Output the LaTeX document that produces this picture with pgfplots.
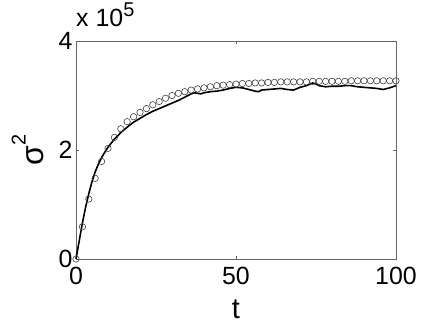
\documentclass[border=0pt]{standalone}
\usepackage{fontspec}
\setmainfont{Liberation Sans}
\usepackage{pgfplots}
\pgfplotsset{compat=1.18}

% model values (circles) and simulation (line), y in units of 1e5
\begin{document}
\begin{tikzpicture}
\begin{axis}[
    scale only axis,
    width=320bp, height=218bp,
    xmin=0, xmax=100, ymin=0, ymax=4,
    xtick={0,50,100}, ytick={0,2,4},
    tick align=inside,
    major tick length=3bp,
    axis line style={black!60, line width=0.6bp},
    tick style={black!60, line width=0.6bp},
    ticklabel style={font=\fontsize{25}{25}\selectfont},
    xticklabel style={yshift=-5bp},
    /pgf/number format/assume math mode=true,
    xlabel={t},
    ylabel={σ\raisebox{0.55em}{\fontsize{20}{20}\selectfont 2}},
    xlabel style={at={(axis description cs:0.5,-0.271)}, anchor=base,
        font=\fontsize{29}{29}\selectfont},
    ylabel style={at={(axis description cs:-0.103,0.5)}, anchor=base,
        font=\fontsize{32}{32}\selectfont},
    clip=false,
]
\addplot[only marks, mark=o, mark size=3.2bp, mark options={black!75, line width=0.6bp}]
coordinates {
(0,0) (2,0.59) (4,1.10) (6,1.48) (8,1.79) (10,2.03) (12,2.23) (14,2.39)
(16,2.52) (18,2.61) (20,2.69) (22,2.76) (24,2.83) (26,2.89) (28,2.95)
(30,3.00) (32,3.04) (34,3.07) (36,3.10) (38,3.12) (40,3.14) (42,3.16)
(44,3.18) (46,3.19) (48,3.20) (50,3.21) (52,3.22) (54,3.22) (56,3.23)
(58,3.23) (60,3.24) (62,3.24) (64,3.25) (66,3.25) (68,3.25) (70,3.25)
(72,3.25) (74,3.26) (76,3.26) (78,3.26) (80,3.26) (82,3.26) (84,3.26)
(86,3.27) (88,3.27) (90,3.27) (92,3.27) (94,3.27) (96,3.27) (98,3.27)
(100,3.27)
};
\addplot[black, line width=1.6bp, line join=round]
coordinates {
(0,0) (1,0.33) (2,0.66) (3,0.95) (4,1.20) (5,1.42) (6,1.60) (7,1.74)
(8,1.86) (9,1.96) (10,2.05) (12,2.20) (14,2.32) (16,2.42) (18,2.51)
(20,2.58) (22,2.65) (24,2.71) (26,2.76) (28,2.81) (30,2.86) (32,2.91)
(34,2.97) (35,3.00) (36,3.03) (37,3.05) (38,3.04) (39,3.03) (40,3.05)
(42,3.07) (44,3.08) (46,3.10) (48,3.13) (50,3.15) (52,3.14) (54,3.11)
(56,3.08) (57,3.07) (58,3.10) (60,3.11) (62,3.12) (64,3.13) (66,3.11)
(68,3.10) (70,3.15) (72,3.18) (74,3.23) (75,3.21) (76,3.18) (78,3.16)
(80,3.17) (82,3.17) (84,3.18) (86,3.18) (88,3.16) (90,3.15) (92,3.14)
(94,3.13) (96,3.11) (98,3.14) (100,3.18)
};
\node[anchor=base west, inner sep=0pt, font=\fontsize{25}{25}\selectfont]
  at ([yshift=14bp]rel axis cs:0,1) {x 10\raisebox{10bp}{\fontsize{20}{20}\selectfont 5}};
\end{axis}
\pgfresetboundingbox
\path ([shift={(-76bp,-68bp)}]current axis.south west)
  rectangle ([shift={(40bp,41bp)}]current axis.north east);
\end{tikzpicture}
\end{document}
